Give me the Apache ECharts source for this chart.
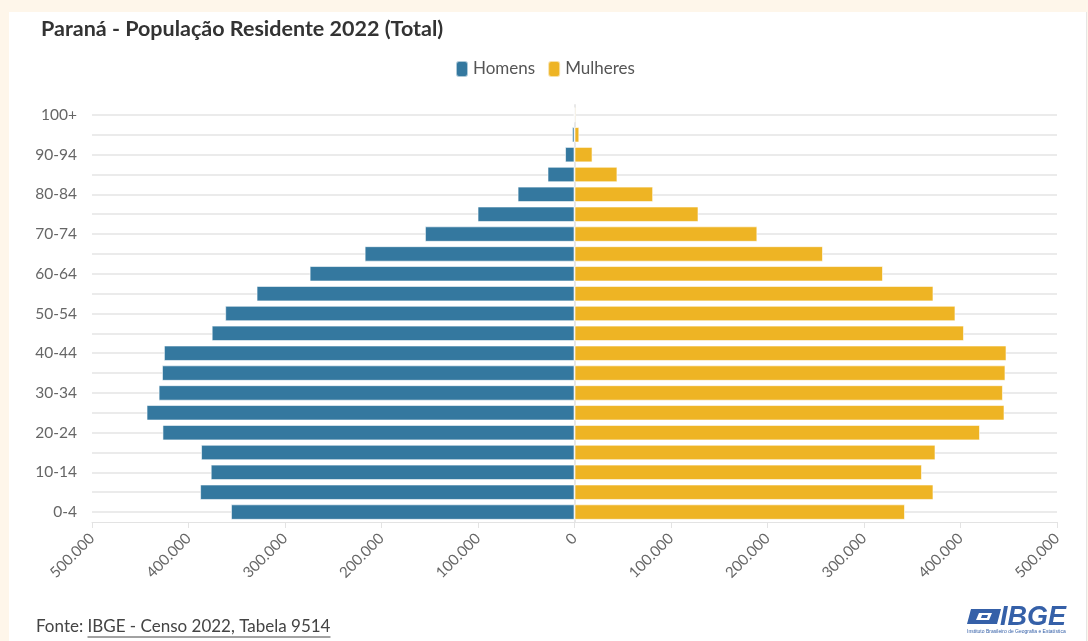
<!DOCTYPE html>
<html>
<head>
<meta charset="utf-8">
<script src="https://cdn.jsdelivr.net/npm/echarts@6/dist/echarts.min.js"></script>
<style>
  html, body { margin: 0; padding: 0; background: #fef6ea; }
  #chart {
    position: absolute; left: 9px; top: 12px;
    width: 1077px; height: 629px;
    background: #ffffff;
    border-right: 1px solid #e6e6e6;
  }
</style>
</head>
<body>
<div id="chart"></div>
<script>
var ageGroups = ['0-4', '5-9', '10-14', '15-19', '20-24', '25-29', '30-34', '35-39',
  '40-44', '45-49', '50-54', '55-59', '60-64', '65-69', '70-74', '75-79',
  '80-84', '85-89', '90-94', '95-99', '100+'];

var homens = [356000, 388000, 377000, 387000, 427000, 443500, 431000, 427500,
  425500, 376000, 362000, 329500, 274500, 217500, 155000, 100500,
  59000, 28000, 9800, 2600, 600];

var mulheres = [342500, 372000, 360100, 374100, 420200, 445600, 444000, 446600,
  447700, 403600, 394800, 372000, 319700, 257500, 189500, 128500,
  81500, 44500, 18700, 5000, 1200];

var xMin = -500000, xMax = 500000, xStep = 100000;

var FONT = 'Lato, "Noto Sans", sans-serif';
var sourcePrefix = 'Fonte: ';
var sourceLink = 'IBGE - Censo 2022, Tabela 9514';

function fmt(v) {
  return String(Math.abs(v)).replace(/\B(?=(\d{3})+(?!\d))/g, '.');
}

// measure footer text so the underline sits under the link part only
var FOOT_SIZE = 17;
var ctx = document.createElement('canvas').getContext('2d');
ctx.font = FOOT_SIZE + 'px Lato';
var prefixW = ctx.measureText(sourcePrefix).width;
var linkW = ctx.measureText(sourceLink).width;
var footX = 27, footY = 606;

var chart = echarts.init(document.getElementById('chart'));

var option = {
  animation: false,
  textStyle: { fontFamily: FONT },
  title: {
    text: 'Paraná - População Residente 2022 (Total)',
    left: 27,
    top: 1,
    textStyle: { fontSize: 21.5, fontWeight: 'bold', color: '#333333', fontFamily: FONT }
  },
  legend: {
    left: 441,
    top: 43,
    icon: 'roundRect',
    itemWidth: 12,
    itemHeight: 16,
    itemGap: 12,
    textStyle: { fontSize: 17, color: '#555555', fontFamily: FONT },
    data: ['Homens', 'Mulheres']
  },
  grid: {
    left: 83,
    right: 29,
    top: 93,
    bottom: 119,
    containLabel: false
  },
  xAxis: {
    type: 'value',
    min: xMin,
    max: xMax,
    interval: xStep,
    axisLine: { show: true, lineStyle: { color: '#e3e3e3', width: 1 } },
    axisTick: { show: true, length: 6, lineStyle: { color: '#e3e3e3' } },
    splitLine: { show: false },
    axisLabel: {
      rotate: 45,
      margin: 14,
      fontSize: 15,
      color: '#666666',
      formatter: fmt
    }
  },
  yAxis: {
    type: 'category',
    data: ageGroups,
    axisLine: { show: true, lineStyle: { color: '#e8e8e8', width: 2 } },
    axisTick: { show: true, alignWithLabel: true, interval: 0, length: 10, lineStyle: { color: '#ebebeb', width: 2 } },
    splitLine: { show: true, alignWithLabel: true, interval: 0, lineStyle: { color: '#ebebeb', width: 2 } },
    axisLabel: { interval: 1, margin: 15, fontSize: 15.5, color: '#666666' }
  },
  series: [
    {
      name: 'Homens',
      type: 'bar',
      stack: 'pop',
      barCategoryGap: '22%',
      itemStyle: { color: '#34789f', borderColor: 'rgba(255,255,255,0.6)', borderWidth: 1 },
      data: homens.map(function (v) { return -v; })
    },
    {
      name: 'Mulheres',
      type: 'bar',
      stack: 'pop',
      barCategoryGap: '22%',
      itemStyle: { color: '#eeb424', borderColor: 'rgba(255,255,255,0.6)', borderWidth: 1 },
      data: mulheres
    }
  ],
  graphic: [
    {
      type: 'text',
      left: footX,
      top: footY,
      style: {
        text: sourcePrefix + sourceLink,
        fontSize: FOOT_SIZE,
        fill: '#444444',
        fontFamily: FONT
      }
    },
    {
      type: 'line',
      shape: { x1: footX + prefixW, y1: footY + 19, x2: footX + prefixW + linkW, y2: footY + 19 },
      style: { stroke: '#444444', lineWidth: 1 }
    },
    {
      type: 'polygon',
      shape: { points: [[962, 597], [992, 597], [988, 612], [958, 612]] },
      style: { fill: '#3560a8' }
    },
    {
      type: 'polygon',
      shape: { points: [[970, 601], [983, 601], [980, 608], [967, 608]] },
      style: { fill: '#ffffff' }
    },
    {
      type: 'polygon',
      shape: { points: [[973, 603], [979, 603], [978, 606], [972, 606]] },
      style: { fill: '#3560a8' }
    },
    {
      type: 'text',
      left: 991,
      top: 592,
      style: {
        text: 'IBGE',
        fontSize: 27,
        fontWeight: 'bold',
        fontStyle: 'italic',
        fill: '#3560a8',
        fontFamily: '"Liberation Sans", Arial, sans-serif'
      }
    },
    {
      type: 'text',
      left: 958,
      top: 617,
      style: {
        text: 'Instituto Brasileiro de Geografia e Estatística',
        fontSize: 5,
        fill: '#3560a8',
        fontFamily: '"Liberation Sans", Arial, sans-serif'
      }
    }
  ]
};

chart.setOption(option);
</script>
</body>
</html>
